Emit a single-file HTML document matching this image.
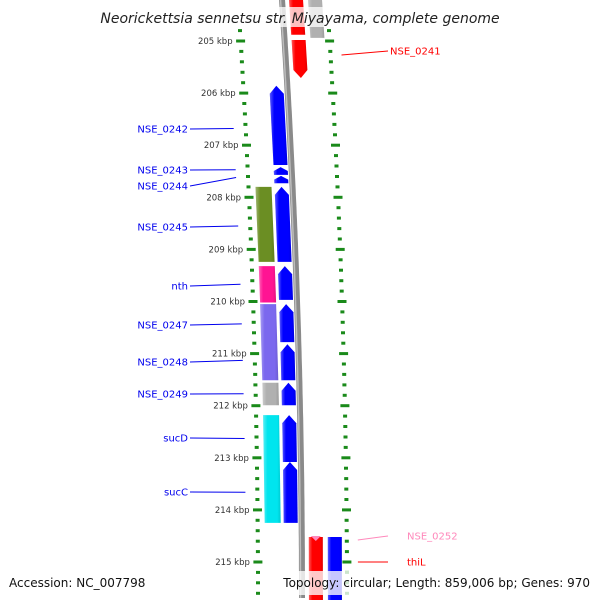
<!DOCTYPE html>
<html><head><meta charset="utf-8"><style>
html,body{margin:0;padding:0;background:#fff}
svg{display:block}
text{font-family:"DejaVu Sans","Liberation Sans",sans-serif}
</style></head><body>
<svg id="chart" width="600" height="600" viewBox="0 0 600 600">
<defs>
<linearGradient id="shade" x1="0" x2="1" y1="0" y2="0">
<stop offset="0" stop-color="#fff" stop-opacity="0.35"/>
<stop offset="0.25" stop-color="#fff" stop-opacity="0"/>
<stop offset="0.8" stop-color="#000" stop-opacity="0"/>
<stop offset="1" stop-color="#000" stop-opacity="0.12"/>
</linearGradient>
</defs>
<g id="g"></g>
</svg>
<script>
// data
const kbpTicks=[205,206,207,208,209,210,211,212,213,214,215];
const fwdGenes=[[205.86,207.38],[207.42,207.57],[207.59,207.73],[207.80,209.24],[209.32,209.97],[210.05,210.78],[210.82,211.51],[211.56,211.99],[212.18,213.08],[213.08,214.25]];
const leftTrack=[[207.80,209.24,"#6b8e23"],[209.32,210.02,"#ff1493"],[210.05,211.51,"#7b68ee"],[211.56,211.99,"#b0b0b0"],[212.18,214.25,"#00e5ee"]];
const revGenes=[[204.2,204.88,"#ff0000",0],[204.98,205.71,"#ff0000",1],[214.52,216.2,"#ff0000",0]];
const rightTrack=[[204.2,204.94,"#b0b0b0"],[214.52,216.2,"#0000ff"]];
const leftLabels=[["NSE_0242",129,206.68],["NSE_0243",170,207.47],["NSE_0244",186,207.62],["NSE_0245",227,208.55],["nth",286,209.67],["NSE_0247",325,210.43],["NSE_0248",362,211.13],["NSE_0249",394,211.77],["sucD",438,212.63],["sucC",492,213.66]];
const rightLabels=[["NSE_0241",51,205.28,"#ff0000"],["NSE_0252",536,214.52,"#ff88bb"],["thiL",562,215.0,"#ff0000"]];

const g=document.getElementById('g');
const NS="http://www.w3.org/2000/svg";
function Y(k){return 41+(k-205)*52.1;}
function B(y){const t=1-y/600;return 302-20*t*t;}
function mk(tag,attrs,parent){const e=document.createElementNS(NS,tag);for(const a in attrs)e.setAttribute(a,attrs[a]);(parent||g).appendChild(e);return e;}
function pts(a){return a.map(p=>p[0].toFixed(1)+","+p[1].toFixed(1)).join(" ");}
// block between y0,y1 at offsets o0..o1; arrow: 1 up, -1 down, 0 none
function block(k0,k1,o0,o1,col,arrow,name){
  const y0=Y(k0),y1=Y(k1);const h=Math.min(8,(y1-y0)*0.5);
  let p;
  const L=y=>B(y)+o0,R=y=>B(y)+o1,M=y=>B(y)+(o0+o1)/2;
  if(arrow===1){p=[[M(y0),y0],[R(y0+h),y0+h],[R(y1),y1],[L(y1),y1],[L(y0+h),y0+h]];}
  else if(arrow===-1){p=[[L(y0),y0],[R(y0),y0],[R(y1-h),y1-h],[M(y1),y1],[L(y1-h),y1-h]];}
  else p=[[L(y0),y0],[R(y0),y0],[R(y1),y1],[L(y1),y1]];
  const e=mk('polygon',{points:pts(p),fill:col});
  
  
  const s=mk('polygon',{points:pts(p),fill:'url(#shade)'});
  
  
}
// backbone
let bb=[];for(let y=-2;y<=602;y+=6)bb.push([B(y),y]);
const bl=mk('polyline',{points:pts(bb),fill:'none',stroke:'#8a8a8a','stroke-width':6});


const bl2=mk('polyline',{points:pts(bb.map(p=>[p[0]-1.5,p[1]])),fill:'none',stroke:'#bdbdbd','stroke-width':1.5});


// rulers
for(let k=204.2;k<=216.3;k+=0.2){
  const kr=Math.round(k*10)/10;const y=Y(kr);if(y<22||y>600)continue;
  const major=Math.abs(kr-Math.round(kr))<0.01;const w=major?9:4;
  [-44,45].forEach(o=>{
    const x=B(y)+o;
    const t=mk('rect',{x:(x-w/2).toFixed(1),y:(y-1.5).toFixed(1),width:w,height:3,fill:'#1a8a1a'});
    
    
  });
}
kbpTicks.forEach(k=>{const y=Y(k);
  const t=mk('text',{x:(B(y)-52).toFixed(1),y:(y+3).toFixed(1),'font-size':'8.5','text-anchor':'end',fill:'#333'});
  t.textContent=k+' kbp';
  
  
});
// features
fwdGenes.forEach(f=>block(f[0],f[1],-18,-4,'#0000ff',1,'forward-gene'));
leftTrack.forEach(f=>block(f[0],f[1],-37,-21,f[2],0,'cog-feature'));
revGenes.forEach(f=>block(f[0],f[1],7,21,f[2],f[3]?-1:0,'reverse-gene'));
rightTrack.forEach(f=>block(f[0],f[1],26,40,f[2],0,'reverse-cog-feature'));
// pink small marker
const pk=mk('polygon',{points:pts([[B(537)+9,536],[B(537)+19,536],[B(537)+14,541]]),fill:'#ff88bb'});


// labels
leftLabels.forEach(l=>{const ty=Y(l[2]);const lx=B(ty)-56;
  const ln=mk('line',{x1:190,y1:l[1],x2:lx.toFixed(1),y2:ty.toFixed(1),stroke:'#0000ee','stroke-width':1});
  
  
  const t=mk('text',{x:188,y:l[1]+3.5,'font-size':'10','text-anchor':'end',fill:'#0000ee'});
  t.textContent=l[0];
  
  
});
rightLabels.forEach(l=>{const ty=Y(l[2]);const lx=B(ty)+56;
  const ln=mk('line',{x1:lx.toFixed(1),y1:(l[1]+(ty>l[1]?4:0)).toFixed(1),x2:388,y2:l[1],stroke:l[3],'stroke-width':1});
  
  
  const t=mk('text',{x:l[0]==='NSE_0241'?390:407,y:l[1]+3.5,'font-size':'10',fill:l[3]});
  t.textContent=l[0];
  
  
});
// title band and footer
const tb=mk('rect',{x:100,y:7,width:400,height:20,fill:'#fff','fill-opacity':0.75});


const tt=mk('text',{x:300,y:23,'font-size':'14','font-style':'italic','text-anchor':'middle',fill:'#222'});
tt.textContent='Neorickettsia sennetsu str. Miyayama, complete genome';


const fb=mk('rect',{x:282,y:571,width:318,height:24,fill:'#fff','fill-opacity':0.78});


const fa=mk('text',{x:9,y:587,'font-size':'12',fill:'#111'});
fa.textContent='Accession: NC_007798';


const ft=mk('text',{x:590,y:587,'font-size':'12','text-anchor':'end',fill:'#111'});
ft.textContent='Topology: circular; Length: 859,006 bp; Genes: 970';


</script>
</body></html>
